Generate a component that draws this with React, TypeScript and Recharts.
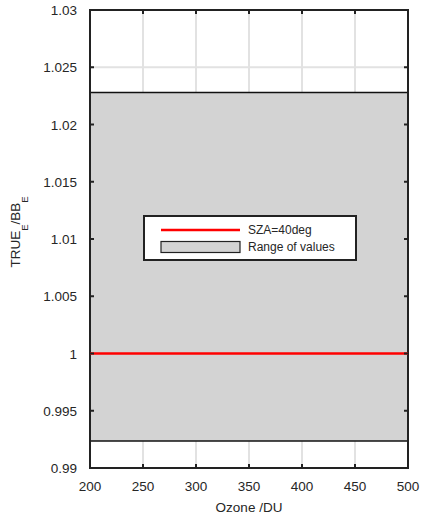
import { ComposedChart, Area, Line, XAxis, YAxis, CartesianGrid, ReferenceArea, Legend } from "recharts"

// values
const ozone = [200, 250, 300, 350, 400, 450, 500]
const rangeLow = [0.99236, 0.99236, 0.99236, 0.99236, 0.99236, 0.99236, 0.99236]
const rangeHigh = [1.0228, 1.0228, 1.0228, 1.0228, 1.0228, 1.0228, 1.0228]
const sza40 = [1, 1, 1, 1, 1, 1, 1]

const xTicks = [200, 250, 300, 350, 400, 450, 500]
const yTicks = [0.99, 0.995, 1, 1.005, 1.01, 1.015, 1.02, 1.025, 1.03]

const data = ozone.map((o, i) => ({ ozone: o, range: [rangeLow[i], rangeHigh[i]], sza: sza40[i] }))

const W = 429
const H = 517
const M = { top: 10, right: 21, bottom: 0, left: 0 }
const Y_W = 90
const X_H = 49
const PLOT_TOP = M.top
const PLOT_RIGHT = W - M.right

const FONT = "'Liberation Sans', Arial, sans-serif"
const TXT = "#262626"

function XTick(props: any) {
  const { x, y, payload } = props
  return (
    <g>
      <line x1={x} x2={x} y1={y} y2={y - 4} stroke="#222" strokeWidth={2} />
      <line x1={x} x2={x} y1={PLOT_TOP} y2={PLOT_TOP + 4} stroke="#222" strokeWidth={2} />
      <text x={x} y={y + 23} textAnchor="middle" fontSize={13.5} fill={TXT} fontFamily={FONT}>
        {payload.value}
      </text>
    </g>
  )
}

function YTick(props: any) {
  const { x, y, payload } = props
  return (
    <g>
      <line x1={x} x2={x + 4} y1={y} y2={y} stroke="#222" strokeWidth={2} />
      <line x1={PLOT_RIGHT} x2={PLOT_RIGHT - 4} y1={y} y2={y} stroke="#222" strokeWidth={2} />
      <text x={x - 13} y={y + 5} textAnchor="end" fontSize={13.5} fill={TXT} fontFamily={FONT}>
        {String(payload.value)}
      </text>
    </g>
  )
}

function YLabel() {
  const cx = 20
  const cy = 232
  return (
    <text
      x={cx}
      y={cy}
      transform={`rotate(-90 ${cx} ${cy})`}
      textAnchor="middle"
      fontSize={13.5}
      fill={TXT}
      fontFamily={FONT}
    >
      TRUE
      <tspan fontSize={9.5} dy={8}>E</tspan>
      <tspan dy={-8}>/BB</tspan>
      <tspan fontSize={9.5} dy={8}>E</tspan>
    </text>
  )
}

function LegendBox() {
  return (
    <svg width={214} height={46} style={{ display: "block" }}>
      <rect x={1} y={1} width={212} height={44} fill="#fff" stroke="#222" strokeWidth={2} />
      <line x1={18} x2={97} y1={15} y2={15} stroke="#ff0000" strokeWidth={2.5} />
      <text x={105} y={19} fontSize={12} fill={TXT} fontFamily={FONT}>SZA=40deg</text>
      <rect x={18} y={26.5} width={79} height={11} fill="#d3d3d3" stroke="#222" strokeWidth={1.2} />
      <text x={105} y={36} fontSize={12} fill={TXT} fontFamily={FONT}>Range of values</text>
    </svg>
  )
}

export default function App() {
  return (
    <div style={{ position: "absolute", left: 0, top: 0, width: W, height: H, background: "#fff" }}>
      <ComposedChart width={W} height={H} data={data} margin={M}>
        <CartesianGrid stroke="#e2e2e2" strokeWidth={2} />
        <XAxis
          dataKey="ozone"
          type="number"
          domain={[200, 500]}
          ticks={xTicks}
          axisLine={false}
          tickLine={false}
          tickSize={0}
          tickMargin={0}
          height={X_H}
          tick={<XTick />}
          interval={0}
          label={{ value: "Ozone /DU", position: "insideBottom", offset: 5, fontSize: 13.5, fill: TXT, fontFamily: FONT }}
        />
        <YAxis
          type="number"
          domain={[0.99, 1.03]}
          ticks={yTicks}
          axisLine={false}
          tickLine={false}
          tickSize={0}
          tickMargin={0}
          width={Y_W}
          tick={<YTick />}
          interval={0}
          allowDataOverflow
          label={<YLabel />}
        />
        <Area
          dataKey="range"
          type="linear"
          stroke="#111"
          strokeWidth={1.5}
          fill="#d3d3d3"
          fillOpacity={1}
          isAnimationActive={false}
          legendType="rect"
          name="Range of values"
        />
        <Line
          dataKey="sza"
          type="linear"
          stroke="#ff0000"
          strokeWidth={2.5}
          dot={false}
          activeDot={false}
          isAnimationActive={false}
          name="SZA=40deg"
        />
        <ReferenceArea x1={200} x2={500} y1={0.99} y2={1.03} fill="none" stroke="#222" strokeWidth={2} ifOverflow="visible" />
        <Legend
          layout="horizontal"
          verticalAlign="middle"
          align="center"
          content={<LegendBox />}
          wrapperStyle={{ left: 143, top: 215, width: 214, height: 46 }}
        />
      </ComposedChart>
    </div>
  )
}
